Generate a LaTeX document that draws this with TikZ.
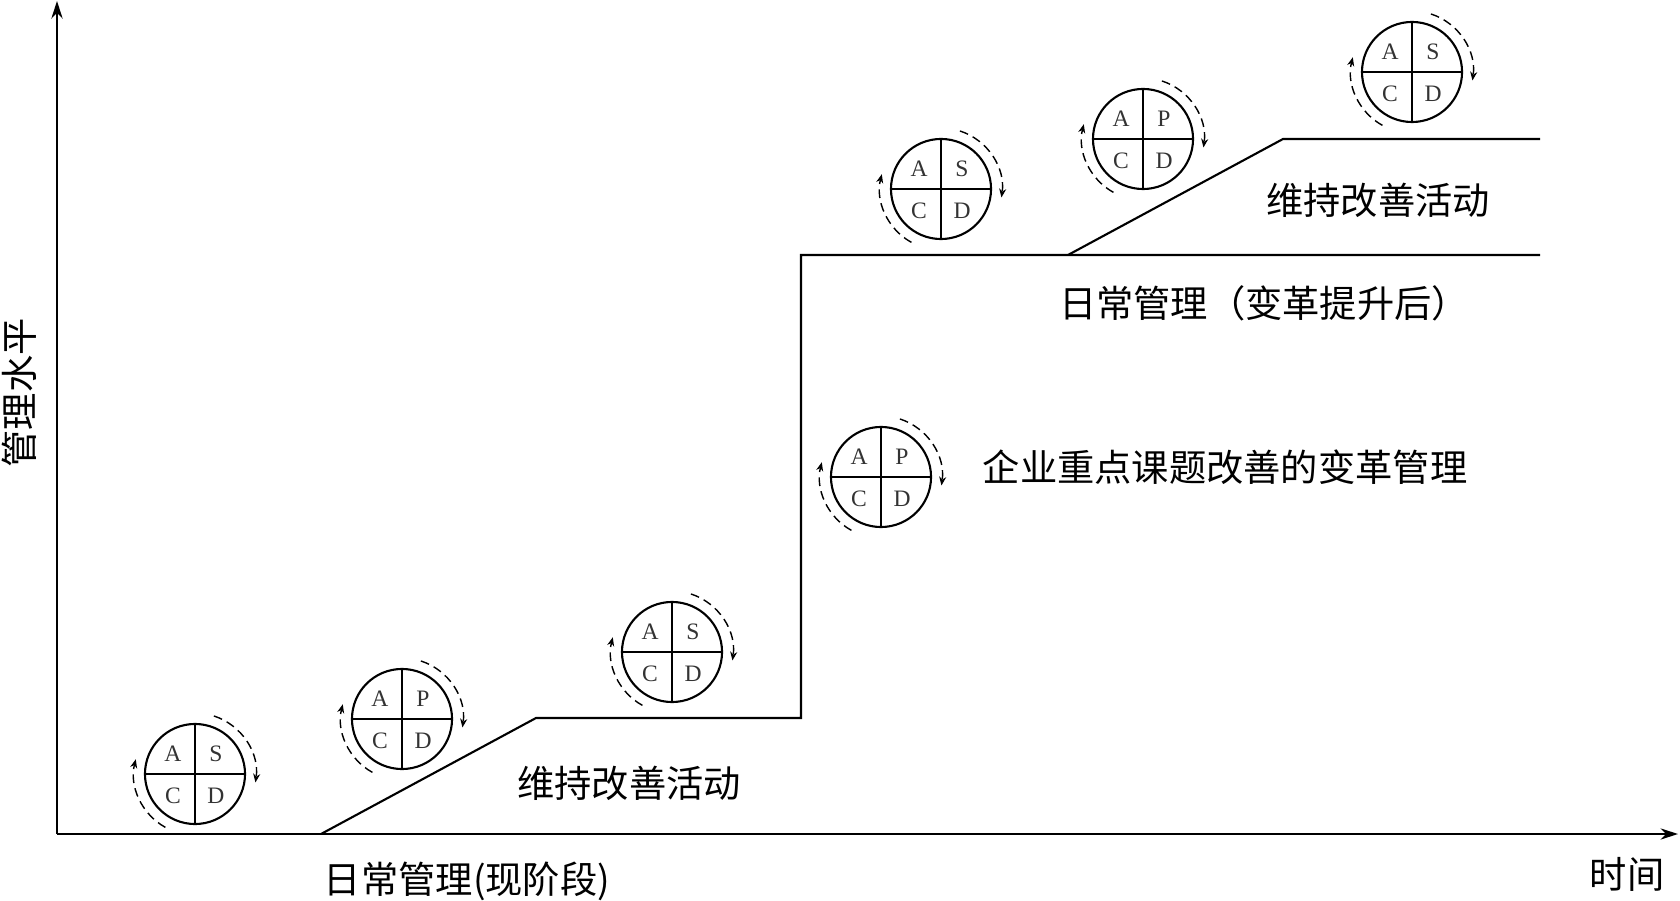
\documentclass[tikz,border=0pt]{standalone}
\usepackage{fontspec}
\newfontfamily\cjk{Noto Sans CJK SC}
\newfontfamily\latinfont{Liberation Serif}
\usetikzlibrary{arrows.meta,calc}

\begin{document}
\begin{tikzpicture}[x=0.01cm, y=0.01cm,
  every node/.style={font=\cjk\fontsize{10.6}{12}\selectfont, inner sep=0pt},
  axis/.style={line width=0.6pt, -{Stealth[length=5pt,width=3.2pt]}},
  level/.style={line width=0.6pt},
  wheel/.style={draw, circle, line width=0.6pt, minimum size=1cm},
  letter/.style={font=\latinfont\fontsize{6.7}{7}\selectfont, text=black!80},
  cyc/.style={dash pattern=on 2.5pt off 1.5pt, line width=0.4pt, -{Stealth[length=2.5pt,width=2pt]}}]
  \useasboundingbox (0,0) rectangle (1680,900);
  % Axes
  \coordinate (o) at (57,66);
  \coordinate (ytop) at (57,899);
  \coordinate (xend) at (1678,66);
  \draw[axis] (o) -- (ytop);
  \draw[axis] (o) -- (xend);
  \node[rotate=90] (ylab) at (19,507) {管理水平};
  \node (xlab) at (1627,26) {时间};
  % Management level
  \coordinate (s0) at (321,66);
  \coordinate (s1) at (536,182);
  \coordinate (s2) at (801,182);
  \coordinate (s3) at (801,645);
  \coordinate (s4) at (1068,645);
  \coordinate (s5) at (1283,761);
  \coordinate (s6) at (1540,761);
  \coordinate (s7) at (1540,645);
  \draw[level] (s0) -- (s1) -- (s2) -- (s3) -- (s7);
  \draw[level] (s4) -- (s5) -- (s6);
  % Labels
  \node (daily) at (467,19) {日常管理(现阶段)};
  \node (keep1) at (629,117) {维持改善活动};
  \node (reform) at (1225,433) {企业重点课题改善的变革管理};
  \node (daily2) at (1264,597) {日常管理（变革提升后）};
  \node (keep2) at (1378,700) {维持改善活动};
  % PDCA / SDCA wheels
  \foreach \n/\x/\y/\l in {w1/195/126/S, w2/402/181/P, w3/672/248/S, w4/881/423/P,
                           w5/941/711/S, w6/1143/761/P, w7/1412/828/S} {
    \node[wheel] (\n) at (\x,\y) {};
    \draw[line width=0.6pt] (\n.north) -- (\n.south);
    \draw[line width=0.6pt] (\n.west) -- (\n.east);
    \node[letter] (\n-a) at ($(\n)+(-22,20)$) {A};
    \node[letter] (\n-b) at ($(\n)+(21,20)$) {\l};
    \node[letter] (\n-c) at ($(\n)+(-22,-22)$) {C};
    \node[letter] (\n-d) at ($(\n)+(21,-22)$) {D};
    \draw[cyc] ($(\n)+(72:0.61cm)$) arc[start angle=72, end angle=-8, radius=0.61cm];
    \draw[cyc] ($(\n)+(-119:0.61cm)$) arc[start angle=-119, end angle=-194, radius=0.61cm];
  }
\end{tikzpicture}
\end{document}
